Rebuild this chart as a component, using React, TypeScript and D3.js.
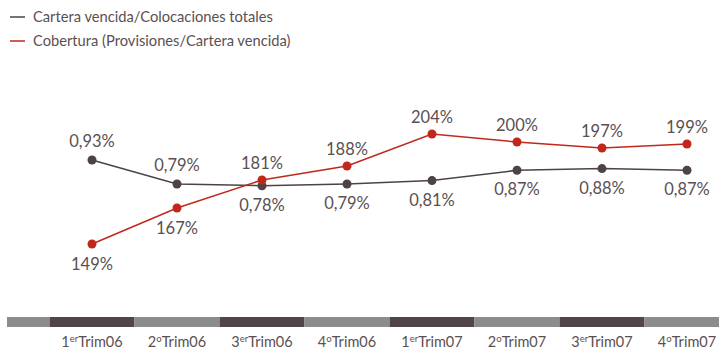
import React from "react";
import * as d3 from "d3";

const categories = ["1", "2", "3", "4", "1", "2", "3", "4"];
const ordinals = ["er", "o", "er", "o", "er", "o", "er", "o"];
const years = ["06", "06", "06", "06", "07", "07", "07", "07"];
const carteraValues = [0.93, 0.79, 0.78, 0.79, 0.81, 0.87, 0.88, 0.87];
const coberturaValues = [149, 167, 181, 188, 204, 200, 197, 199];
const carteraLabelAbove = [true, true, false, false, false, false, false, false];
const coberturaLabelAbove = [false, false, true, true, true, true, true, true];
const legendLabels = [
  "Cartera vencida/Colocaciones totales",
  "Cobertura (Provisiones/Cartera vencida)",
];

const W = 719;
const H = 351;
const DARK = "#4d4245";
const RED = "#c0281c";
const TEXT = "#5a5052";
const GRAY_BAR = "#8c8c8c";
const DARK_BAR = "#524547";
const FONT = "Lato, 'Open Sans', sans-serif";

export default function App() {
  const x = d3
    .scaleBand<number>()
    .domain(d3.range(categories.length))
    .range([49.5, 49.5 + 85 * categories.length])
    .padding(0);
  const yDark = d3.scaleLinear().domain([0.79, 0.93]).range([184, 160]);
  const yRed = d3.scaleLinear().domain([149, 204]).range([244, 134]);
  const cx = (i: number) => (x(i) as number) + x.bandwidth() / 2;

  const lineDark = d3
    .line<number>()
    .x((_, i) => cx(i))
    .y((d) => yDark(d));
  const lineRed = d3
    .line<number>()
    .x((_, i) => cx(i))
    .y((d) => yRed(d));

  const fmtDark = (v: number) => v.toFixed(2).replace(".", ",") + "%";
  const fmtRed = (v: number) => d3.format("d")(v) + "%";

  return (
    <div style={{ position: "absolute", left: 0, top: 0 }}>
      <svg width={W} height={H} style={{ display: "block" }} fontFamily={FONT}>
        <rect width={W} height={H} fill="#fff" />
        {/* legend */}
        {legendLabels.map((t, i) => (
          <g key={t} transform={`translate(0, ${17 + i * 24})`}>
            <line x1={10} x2={25} y1={0} y2={0} stroke={i === 0 ? DARK : RED} strokeWidth={1.5} />
            <text x={33} y={5} fontSize={14.7} fill={TEXT}>
              {t}
            </text>
          </g>
        ))}

        {/* axis band */}
        <rect x={7} y={317} width={42.5} height={10} fill={GRAY_BAR} />
        {categories.map((c, i) => (
          <rect
            key={"b" + i}
            x={x(i) as number}
            y={317}
            width={x.bandwidth()}
            height={10}
            fill={i % 2 === 0 ? DARK_BAR : GRAY_BAR}
          />
        ))}
        {categories.map((c, i) => (
          <text key={"t" + i} x={cx(i)} y={347} fontSize={14.5} fill={TEXT} textAnchor="middle">
            {c}
            <tspan fontSize={9.5} dy={-5}>
              {ordinals[i]}
            </tspan>
            <tspan dy={5}>{"Trim" + years[i]}</tspan>
          </text>
        ))}

        {/* lines */}
        <path d={lineDark(carteraValues) || ""} fill="none" stroke={DARK} strokeWidth={1.5} />
        <path d={lineRed(coberturaValues) || ""} fill="none" stroke={RED} strokeWidth={1.5} />
        {carteraValues.map((v, i) => (
          <circle key={"cd" + i} cx={cx(i)} cy={yDark(v)} r={4.5} fill={DARK} />
        ))}
        {coberturaValues.map((v, i) => (
          <circle key={"cr" + i} cx={cx(i)} cy={yRed(v)} r={4.5} fill={RED} />
        ))}

        {/* labels */}
        {carteraValues.map((v, i) => (
          <text
            key={"ld" + i}
            x={cx(i)}
            y={yDark(v) + (carteraLabelAbove[i] ? -13.5 : 25)}
            fontSize={16.5}
            fill={TEXT}
            textAnchor="middle"
          >
            {fmtDark(v)}
          </text>
        ))}
        {coberturaValues.map((v, i) => (
          <text
            key={"lr" + i}
            x={cx(i)}
            y={yRed(v) + (coberturaLabelAbove[i] ? -11 : 26)}
            fontSize={16.5}
            fill={TEXT}
            textAnchor="middle"
          >
            {fmtRed(v)}
          </text>
        ))}
      </svg>
    </div>
  );
}
